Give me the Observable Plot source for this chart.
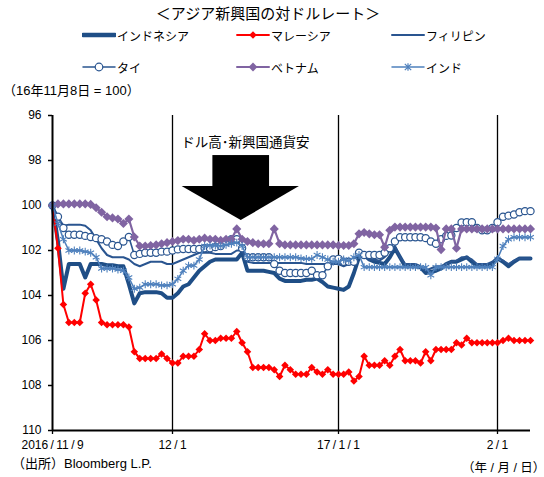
<!DOCTYPE html>
<html><head><meta charset="utf-8">
<script src="https://cdn.jsdelivr.net/npm/d3@7"></script>
<script src="https://cdn.jsdelivr.net/npm/@observablehq/plot@0.6"></script>
<style>
body{margin:0;background:#fff;}
#wrap{position:relative;width:544px;height:477px;font-family:"Liberation Sans","Noto Sans CJK JP",sans-serif;color:#000;overflow:hidden;}
.t{position:absolute;white-space:nowrap;line-height:16px;font-size:12px;}
#wrap svg.chart{position:absolute;left:0;top:0;}
.leg{position:absolute;height:16px;display:flex;align-items:center;font-size:12px;white-space:nowrap;}
.leg svg{display:block;margin-right:1px;}
</style></head><body><div id="wrap"></div>
<script>
// ---- data ----
const title = "＜アジア新興国の対ドルレート＞";
const yLabel = "（16年11月8日 = 100）";
const source = "（出所）Bloomberg L.P.";
const xUnit = "（年 / 月 / 日）";
const annotation = "ドル高･新興国通貨安";
const seriesNames = ["インドネシア","マレーシア","フィリピン","タイ","ベトナム","インド"];
const seriesColors = ["#1F4E86","#FF0000","#2A5590","#2A5590","#8064A2","#4F81BD"];
const startDate = "2016-11-09", endDate = "2017-02-07";
const tickDates = ["2016-11-09","2016-12-01","2017-01-01","2017-02-01"];
const tickLabels = ["2016/11/9","12/1","17/1/1","2/1"];
const gridDates = ["2016-12-01","2017-01-01","2017-02-01"];
const yTicks = [96,98,100,102,104,106,108,110];

const indonesia = [100,101.6,103.7,102.6,102.6,102.6,103.2,102.6,102.6,102.6,
102.65,102.65,102.7,102.7,103.5,104.35,103.9,103.85,103.85,103.85,
103.9,104.1,104.1,103.9,103.6,103.5,103.2,102.9,102.7,102.5,
102.4,102.4,102.4,102.4,102.4,102.1,102.9,102.9,102.9,102.9,
102.95,103.0,103.25,103.35,103.35,103.35,103.35,103.3,103.3,103.25,
103.4,103.6,103.65,103.7,103.75,103.6,103.0,102.3,102.2,102.4,
102.5,102.55,102.6,102.3,101.9,102.3,102.7,102.7,102.7,102.75,
103.0,102.95,102.9,102.8,102.6,102.5,102.5,102.4,102.3,102.5,
102.7,102.7,102.7,102.6,102.35,102.5,102.7,102.5,102.35,102.35,
102.35];
const malaysia = [100,101.9,104.4,105.2,105.2,105.2,103.9,103.5,104.2,105.2,
105.3,105.3,105.3,105.3,105.4,106.5,106.8,106.8,106.8,106.8,
106.6,106.8,107.0,107.0,106.7,106.7,106.7,106.4,105.7,106.0,
106.0,105.9,105.9,105.9,105.6,106.1,106.5,107.2,107.2,107.2,
107.2,107.3,107.6,107.1,107.3,107.5,107.5,107.5,107.2,107.4,
107.5,107.3,107.5,107.5,107.5,107.4,107.8,107.6,106.7,107.1,
107.1,107.1,106.9,107.1,106.7,106.4,106.9,106.9,106.9,107.0,
106.5,106.9,106.4,106.4,106.4,106.4,106.1,106.2,105.9,106.1,
106.1,106.1,106.1,106.1,106.1,106.0,105.9,106.0,106.0,106.0,
106.0];
const philippines = [100,100.5,100.9,100.85,100.85,100.85,100.9,101.1,101.5,101.9,
102.2,102.3,102.3,102.3,102.4,102.6,102.7,102.6,102.5,102.5,
102.5,102.6,102.6,102.5,102.4,102.3,102.2,102.1,102.1,102.1,
102.15,102.15,102.15,102.15,102.0,102.0,102.5,102.55,102.55,102.55,
102.55,102.55,102.55,102.55,102.55,102.55,102.55,102.6,102.6,102.6,
102.6,102.6,102.6,102.6,102.7,102.6,102.4,102.1,102.2,102.4,
102.4,102.45,102.3,102.0,101.8,102.3,102.6,102.6,102.6,102.7,
102.9,102.8,102.7,102.7,102.6,102.5,102.45,102.3,102.3,102.4,
102.6,102.6,102.6,102.5,102.3,102.45,102.6,102.45,102.35,102.35,
102.35];
const thailand = [100,100.5,101.0,101.3,101.3,101.3,101.35,101.4,101.45,101.5,
101.6,101.75,101.8,101.6,101.4,102.2,102.15,102.1,102.1,102.1,
102.05,102.05,102.0,101.95,101.93,101.93,101.93,101.93,101.9,101.9,
101.85,101.8,101.6,101.5,101.5,101.9,102.3,102.3,102.3,102.3,
102.3,102.6,102.9,103.0,103.0,103.0,103.0,103.0,102.9,103.1,
103.1,102.7,102.4,102.37,102.5,102.5,102.5,102.1,102.2,102.2,
102.2,102.2,102.1,101.9,101.6,101.41,101.41,101.41,101.41,101.41,
101.45,101.6,101.7,101.5,101.35,101.33,101.0,100.75,100.74,100.74,
101.0,101.1,101.1,101.0,100.74,100.5,100.45,100.4,100.3,100.25,
100.25];
const vietnam = [100,99.93,99.93,99.93,99.93,99.93,99.93,99.95,100.1,100.3,
100.5,100.55,100.6,100.8,100.6,101.4,101.8,101.8,101.78,101.75,
101.7,101.65,101.6,101.56,101.5,101.5,101.55,101.5,101.45,101.5,
101.5,101.55,101.5,101.5,101.04,101.5,101.6,101.65,101.7,101.7,
101.7,101.04,101.7,101.75,101.75,101.75,101.75,101.75,101.75,101.75,
101.75,101.75,101.75,101.78,101.78,101.78,101.7,101.26,101.2,101.26,
101.3,101.3,101.85,101.1,100.96,100.96,100.96,100.96,100.96,100.96,
100.96,100.96,101.0,101.96,101.04,101.04,101.9,101.04,101.04,101.04,
101.04,101.04,101.04,101.04,101.04,101.04,101.04,101.04,101.04,101.04,
101.04];
const india = [100,100.8,101.5,102.0,102.0,102.0,102.05,102.1,102.3,102.8,
102.8,102.8,102.85,102.9,103.2,103.7,103.65,103.5,103.5,103.5,
103.55,103.55,103.5,103.26,102.9,102.67,102.67,102.4,101.8,101.78,
101.78,101.8,101.75,101.7,101.65,101.8,102.3,102.3,102.3,102.3,
102.3,102.3,102.3,102.3,102.3,102.3,102.35,102.37,102.37,102.2,
102.3,102.4,102.5,102.5,102.4,102.45,102.3,102.2,102.74,102.74,
102.74,102.74,102.74,102.74,102.74,102.74,102.74,102.74,102.74,102.74,
102.74,103.1,102.74,102.74,102.74,102.74,102.74,102.74,102.74,102.74,
102.74,102.74,102.74,102.74,102.37,101.8,101.5,101.41,101.41,101.41,
101.41];

// annotation arrow (data coordinates)
const arrowShaft = [{x1:"2016-12-08T13:00Z", x2:"2016-12-19T03:00Z", y1:97.78, y2:99.2}];
const arrowHead = [{x:"2016-12-02T19:00Z", y1:99.16, y2:99.16},
                   {x:"2016-12-13T20:00Z", y1:99.16, y2:100.67},
                   {x:"2016-12-24T17:00Z", y1:99.16, y2:99.16}];
const annotationPos = [{x:"2016-12-14T15:00Z", y:97.19}];

// ---- build ----
const D = s => new Date(s);
const dates = d3.utcDay.range(D(startDate), d3.utcDay.offset(D(endDate), 1));
const allSeries = [indonesia, malaysia, philippines, thailand, vietnam, india];
const rows = allSeries.map((vals, k) => vals.map((v, i) => ({date: dates[i], value: v, series: seriesNames[k]})));
const labelMap = new Map(tickDates.map((d, i) => [+D(d), tickLabels[i].replace(/\//g, "\u2009/\u2009")]));

const styles = [
  {line:{strokeWidth:4}, dot:null},
  {line:{strokeWidth:2}, dot:{symbol:"diamond2", r:3.4, fill:seriesColors[1], stroke:"none"}},
  {line:{strokeWidth:2}, dot:null},
  {line:{strokeWidth:1.6}, dot:{symbol:"circle", r:3.6, fill:"#fff", stroke:seriesColors[3], strokeWidth:1.2}},
  {line:{strokeWidth:2.2}, dot:{symbol:"diamond2", r:4.1, fill:seriesColors[4], stroke:"none"}},
  {line:{strokeWidth:1.6}, dot:{symbol:"asterisk", r:3.7, fill:"none", stroke:seriesColors[5], strokeWidth:1.1}}
];

const seriesMarks = [];
rows.forEach((r, k) => {
  seriesMarks.push(Plot.line(r, {x:"date", y:"value", stroke:seriesColors[k], strokeLinejoin:"round", strokeLinecap:"round", ...styles[k].line}));
  if (styles[k].dot) seriesMarks.push(Plot.dot(r, {x:"date", y:"value", ...styles[k].dot}));
});

const chart = Plot.plot({
  width: 544, height: 477,
  marginLeft: 52, marginRight: 14, marginTop: 115, marginBottom: 47,
  style: {fontFamily: "Liberation Sans, Noto Sans CJK JP, sans-serif", fontSize: "12px", color: "#000", background: "transparent"},
  x: {type: "utc", domain: [D("2016-11-09"), D("2016-12-01"), D("2017-01-01"), D("2017-02-01"), D("2017-02-07")], range: [52, 172, 338, 497, 530]},
  y: {domain: [96, 110], range: [115, 430]},
  marks: [
    Plot.ruleX(gridDates.map(D), {y1: 96, y2: 110, stroke: "#000", strokeWidth: 1.3}),
    Plot.axisY({ticks: yTicks, tickSize: 4, tickPadding: 7, fontSize: 12, strokeWidth: 1.5}),
    Plot.axisX({ticks: tickDates.map(D), tickFormat: d => labelMap.get(+d), tickSize: 4, tickPadding: 6, fontSize: 12, strokeWidth: 1.3}),
    Plot.rect(arrowShaft, {x1: d => D(d.x1), x2: d => D(d.x2), y1: "y1", y2: "y2", fill: "#000"}),
    Plot.area(arrowHead, {x1: d => D(d.x), y1: "y1", y2: "y2", fill: "#000", curve: "linear"}),
    Plot.text(annotationPos, {x: d => D(d.x), y: "y", text: () => annotation, fontSize: 13.5, fill: "#000"}),
    ...seriesMarks,
    Plot.ruleX([D(startDate)], {y1: 96, y2: 110, stroke: "#000", strokeWidth: 2}),
    Plot.ruleY([110], {x1: D(startDate), x2: D(endDate), stroke: "#000", strokeWidth: 2})
  ]
});
chart.classList.add("chart");
const wrap = document.getElementById("wrap");
wrap.appendChild(chart);

function addText(txt, css) {
  const el = document.createElement("div");
  el.className = "t"; el.textContent = txt;
  Object.assign(el.style, css);
  wrap.appendChild(el);
}
addText(title, {left: "0px", width: "536px", textAlign: "center", top: "5px", fontSize: "15px", lineHeight: "18px"});
addText(yLabel, {left: "3px", top: "82px", fontSize: "13px", lineHeight: "18px"});
addText(source, {left: "12px", top: "455px", fontSize: "13px", lineHeight: "18px"});
addText(xUnit, {left: "462px", top: "459px", fontSize: "12.5px", lineHeight: "18px"});

// legend
const legendPos = [[82,27],[236,27],[391,27],[82,59],[236,59],[391,59]];
function swatch(k) {
  const c = seriesColors[k];
  const w = 34, h = 12, cy = 6, cx = 17;
  let s = `<svg width="${w}" height="${h}" viewBox="0 0 ${w} ${h}">`;
  const sw = [4.5, 1.8, 2, 1.5, 2, 1.5][k];
  s += `<line x1="1" y1="${cy}" x2="${w-1}" y2="${cy}" stroke="${c}" stroke-width="${sw}" stroke-linecap="round"/>`;
  if (k === 1) s += `<path d="M${cx},${cy-3.8}L${cx+3.8},${cy}L${cx},${cy+3.8}L${cx-3.8},${cy}Z" fill="${c}"/>`;
  if (k === 4) s += `<path d="M${cx},${cy-4.4}L${cx+4.4},${cy}L${cx},${cy+4.4}L${cx-4.4},${cy}Z" fill="${c}"/>`;
  if (k === 3) s += `<circle cx="${cx}" cy="${cy}" r="3.8" fill="#fff" stroke="${c}" stroke-width="1.2"/>`;
  if (k === 5) s += `<path d="M${cx-3.2},${cy-3.2}L${cx+3.2},${cy+3.2}M${cx-3.2},${cy+3.2}L${cx+3.2},${cy-3.2}M${cx},${cy-3.8}L${cx},${cy+3.8}" stroke="${c}" stroke-width="1.2"/>`;
  return s + `</svg>`;
}
seriesNames.forEach((name, k) => {
  const el = document.createElement("div");
  el.className = "leg";
  el.style.left = legendPos[k][0] + "px";
  el.style.top = legendPos[k][1] + "px";
  el.innerHTML = swatch(k) + `<span>${name}</span>`;
  wrap.appendChild(el);
});
</script>
</body></html>
